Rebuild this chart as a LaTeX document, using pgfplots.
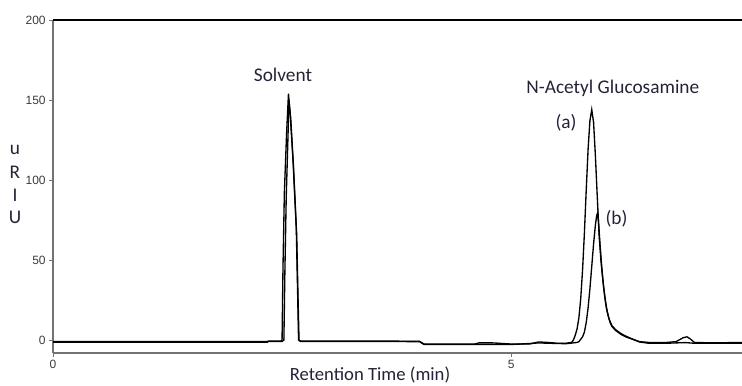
\documentclass[border=0pt]{standalone}
\usepackage{fontspec}
\setmainfont{Carlito}
\newfontfamily\ticksf{Liberation Sans}
\usepackage{pgfplots}
\pgfplotsset{compat=1.18}
\definecolor{txt}{RGB}{35,35,55}
\definecolor{tickc}{RGB}{60,60,60}
\begin{document}
\begin{tikzpicture}
\begin{axis}[
  scale only axis,
  width=516.75pt, height=249.75pt,
  xmin=0, xmax=7.52, ymin=-8.1, ymax=200,
  axis lines=left,
  axis line style={-, draw=black!55, line width=0.8pt},
  xtick={0,5}, ytick={0,50,100,150,200},
  tick align=outside,
  major tick length=3pt,
  tick style={draw=black!55, line width=0.5pt},
  /pgf/number format/assume math mode=true,
  ticklabel style={font=\ticksf\fontsize{9}{10}\selectfont, text=tickc},
  yticklabel style={xshift=1pt},
  xticklabel style={yshift=1pt},
  clip=false,
]
% trace (a)
\addplot[black, line width=1pt] coordinates {
(0,-1) (1.0,-1) (2.0,-1) (2.34,-1) (2.35,-0.6) (2.49,-0.6) (2.50,0) (2.51,45) (2.525,92) (2.55,130) (2.57,154) (2.59,140) (2.62,112) (2.655,70) (2.67,29) (2.68,0) (2.70,-0.6) (3.5,-0.6) (4.0,-0.8) (4.05,-2.5) (4.6,-2.5) (4.65,-1.8) (4.8,-1.8) (5.0,-2.5) (5.2,-2.5) (5.3,-1.2) (5.4,-1.5) (5.5,-2) (5.6,-2) (5.66,-1.5)
(5.68,0) (5.70,3) (5.72,7) (5.74,14) (5.76,26) (5.78,44) (5.80,67) (5.82,94) (5.84,119) (5.86,137) (5.88,144) (5.90,136) (5.92,115) (5.94,90) (5.96,66) (5.98,50) (6.00,38) (6.02,28) (6.04,20) (6.06,15) (6.08,11) (6.10,8.5) (6.14,6) (6.20,3.5) (6.25,2) (6.30,1) (6.40,-1) (6.5,-1.5) (6.7,-1.5) (6.8,-1) (6.88,1.5) (6.92,2) (6.96,0.5) (7.0,-1.5) (7.2,-1.8) (7.52,-1.5)
};
% trace (b)
\addplot[black, line width=1pt] coordinates {
(0,-1.4) (1.0,-1.4) (2.0,-1.4) (2.34,-1.4) (2.35,-0.9) (2.50,-0.9) (2.52,0) (2.53,40) (2.545,88) (2.565,128) (2.575,150) (2.595,138) (2.625,108) (2.66,65) (2.675,25) (2.685,0) (2.70,-0.9) (3.5,-0.9) (4.0,-1) (4.05,-2.8) (5.0,-2.8) (5.2,-2.2) (5.3,-1.8) (5.4,-2) (5.6,-2.3) (5.72,-1.5)
(5.74,-1) (5.76,0.5) (5.78,2) (5.80,5) (5.82,11) (5.84,20) (5.86,32) (5.88,46) (5.90,60) (5.92,72) (5.935,78) (5.945,79.5) (5.955,73) (5.97,60) (5.99,45) (6.01,33) (6.03,24) (6.05,17.5) (6.07,13) (6.10,9) (6.14,6.5) (6.20,4) (6.25,2.5) (6.30,1.2) (6.40,-1.2) (6.5,-2) (6.7,-2) (6.9,-1.6) (7.0,-2) (7.2,-2) (7.52,-2)
};
\draw[black, line width=0.8pt] (rel axis cs:0,1) -- (rel axis cs:1,1);
\tikzset{lab/.style={font=\fontsize{14.5}{16}\selectfont, text=txt}}
\node[lab] at (axis cs:2.51,165.6) {Solvent};
\node[lab] at (axis cs:6.11,157.5) {N-Acetyl Glucosamine};
\node[lab] at (axis cs:5.60,136) {(a)};
\node[lab] at (axis cs:6.15,76) {(b)};
\node[lab, font=\fontsize{14}{16}\selectfont] at (axis cs:3.46,-21.8) {Retention Time (min)};
\node[lab] at (axis cs:-0.415,118.75) {u};
\node[lab] at (axis cs:-0.415,105) {R};
\node[lab] at (axis cs:-0.415,90.6) {I};
\node[lab] at (axis cs:-0.415,76.9) {U};
\coordinate (bbsw) at (axis cs:-0.5786,-28.125);
\coordinate (bbne) at (axis cs:7.52,212.5);
\end{axis}
\pgfresetboundingbox
\path (bbsw) rectangle (bbne);
\end{tikzpicture}
\end{document}
